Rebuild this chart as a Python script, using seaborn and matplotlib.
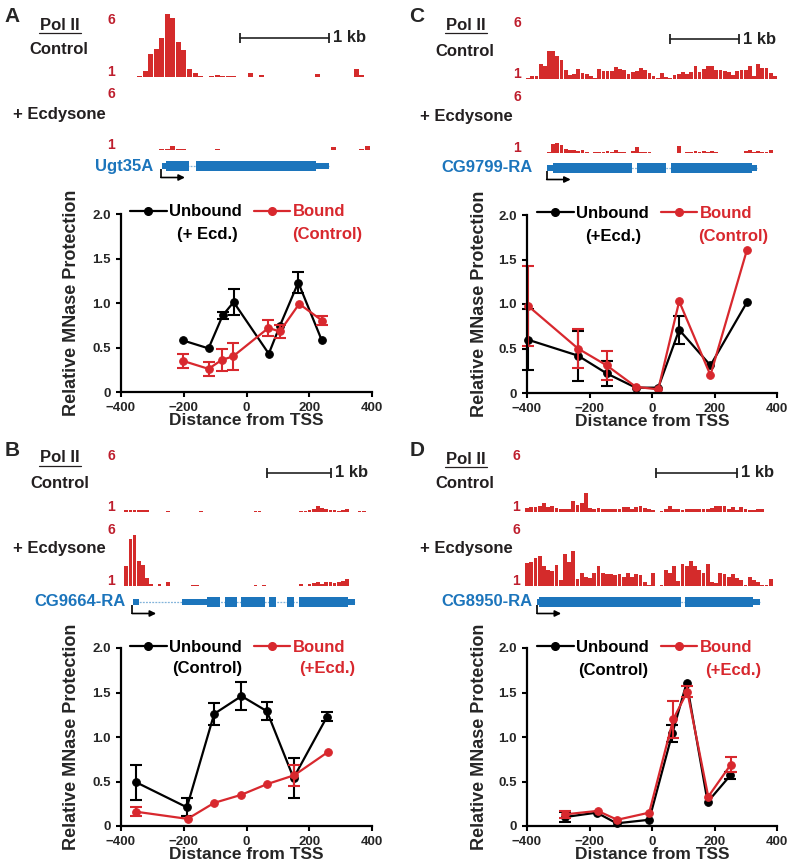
import numpy as np
import pandas as pd
import matplotlib
matplotlib.use("Agg")
import matplotlib.pyplot as plt
import matplotlib.transforms as mtransforms
from matplotlib.lines import Line2D
import seaborn as sns

# ---- MNase protection around the TSS (mean, error) ----
a_x_unb = [-203, -121, -76, -41, 71, 106, 165, 240]
a_y_unb = [0.58, 0.49, 0.86, 1.01, 0.43, 0.74, 1.23, 0.58]
a_e_unb = [0, 0, 0.04, 0.15, 0, 0, 0.12, 0]
a_x_bnd = [-203, -121, -79, -43, 70, 106, 168, 242]
a_y_bnd = [0.35, 0.26, 0.36, 0.40, 0.72, 0.68, 0.99, 0.80]
a_e_bnd = [0.08, 0.08, 0.12, 0.15, 0.09, 0.07, 0, 0.05]

c_x_unb = [-398, -237, -145, -52, 20, 87, 187, 304]
c_y_unb = [0.60, 0.42, 0.22, 0.06, 0.06, 0.71, 0.31, 1.02]
c_e_unb = [0.34, 0.28, 0.14, 0, 0, 0.16, 0, 0]
c_x_bnd = [-397, -237, -145, -52, 20, 87, 187, 304]
c_y_bnd = [0.98, 0.50, 0.31, 0.07, 0.04, 1.03, 0.20, 1.61]
c_e_bnd = [0.45, 0.22, 0.16, 0, 0, 0, 0, 0]

b_x_unb = [-351, -190, -103, -16, 65, 150, 257]
b_y_unb = [0.49, 0.21, 1.26, 1.46, 1.29, 0.54, 1.23]
b_e_unb = [0.20, 0.10, 0.12, 0.16, 0.10, 0.22, 0.05]
b_x_bnd = [-351, -188, -103, -17, 65, 152, 259]
b_y_bnd = [0.16, 0.08, 0.26, 0.35, 0.47, 0.57, 0.83]
b_e_bnd = [0.05, 0, 0, 0, 0, 0.12, 0]

d_x_unb = [-280, -177, -113, -9, 65, 111, 178, 251]
d_y_unb = [0.10, 0.15, 0.03, 0.07, 1.04, 1.61, 0.27, 0.57]
d_e_unb = [0.06, 0, 0, 0, 0.10, 0, 0, 0.04]
d_x_bnd = [-280, -174, -111, -9, 68, 113, 180, 252]
d_y_bnd = [0.13, 0.17, 0.07, 0.15, 1.20, 1.51, 0.33, 0.69]
d_e_bnd = [0.04, 0, 0, 0, 0.21, 0.06, 0, 0.08]

# ---- Pol II ChIP tracks (binned signal, scale 1-6) ----
a_ctrl = [1, 1, 1.03, 1.05, 1.48, 2.81, 3.26, 4.11, 6.0, 5.65, 3.79, 3.18, 1.66, 1.32, 1.08,
          1, 1.1, 1.16, 1.1, 1.1, 1.05, 1, 1, 1.29, 1, 1.14, 1, 1, 1, 1,
          1, 1, 1, 1, 1, 1.21, 1, 1, 1, 1, 1, 1, 1.61, 1.12, 1]
a_ecd = [1, 1, 1, 1, 1, 1, 1, 1.11, 1.11, 1.32, 1.11, 1.05, 1, 1, 1,
         1, 1, 1.11, 1, 1, 1, 1.04, 1, 1, 1, 1, 1, 1, 1, 1,
         1, 1, 1, 1, 1, 1, 1, 1, 1.27, 1, 1, 1, 1, 1.1, 1.35]
c_ctrl = [1.06, 1.22, 1.22, 2.17, 2.06, 3.22, 3.22, 2.83, 2.56, 1.72, 1.36, 1.44, 1.83, 1.5, 1.44,
          1.22, 1.08, 1.83, 1.64, 1.64, 1.64, 2.0, 1.78, 1.72, 1.44, 1.56, 1.64, 1.92, 1.72, 1.5,
          1.22, 1.08, 1.5, 1.17, 1.08, 1.33, 1.44, 1.56, 1.44, 1.56, 2.06, 1.56, 1.78, 2.06, 2.06,
          1.72, 1.72, 1.64, 1.56, 1.36, 1.64, 1.72, 1.72, 2.06, 1.28, 2.19, 1.92, 1.92, 1.5, 1.22]
c_ecd = [1, 1, 1, 1, 1, 1.08, 1.72, 1.78, 1.64, 1.36, 1.28, 1.22, 1.17, 1.22, 1.08,
         1, 1.08, 1.08, 1.08, 1.17, 1.08, 1.28, 1.08, 1.08, 1, 1.17, 1.5, 1.08, 1.08, 1.08,
         1, 1, 1, 1, 1, 1, 1.56, 1, 1.08, 1.08, 1.14, 1.08, 1.14, 1.08, 1.17,
         1.08, 1, 1, 1, 1, 1, 1, 1.17, 1.22, 1.08, 1.17, 1.08, 1.06, 1.22, 1]
b_ctrl = [1, 1.19, 1.14, 1.14, 1.14, 1.14, 1.14, 1, 1, 1, 1, 1.08, 1, 1, 1,
          1, 1, 1, 1, 1.06, 1, 1, 1, 1, 1, 1, 1, 1, 1, 1,
          1, 1, 1.08, 1.06, 1.03, 1, 1, 1, 1, 1, 1, 1, 1, 1.08, 1.11,
          1.14, 1.28, 1.47, 1.33, 1.25, 1.19, 1.14, 1.08, 1.14, 1.25, 1, 1, 1.06, 1.06, 1]
b_ecd = [1, 2.64, 4.8, 5.08, 3.0, 2.72, 1.61, 1.19, 1, 1.14, 1, 1.33, 1, 1, 1,
         1, 1, 1.11, 1.06, 1, 1, 1, 1, 1, 1, 1, 1, 1, 1, 1,
         1, 1, 1.06, 1, 1.06, 1, 1, 1, 1, 1, 1, 1, 1, 1.14, 1,
         1.14, 1.25, 1.33, 1.19, 1.33, 1.33, 1.28, 1.33, 1.42, 1.53, 1, 1, 1, 1, 1]
d_ctrl = [1.31, 1.39, 1.44, 1.5, 1.72, 1.39, 1.5, 1.31, 1.28, 1.28, 1.28, 1.86, 1.58, 1.69, 2.56,
          1.31, 1.28, 1.31, 1.28, 1.28, 1.28, 1.28, 1.22, 1.39, 1.39, 1.28, 1.39, 1.5, 1.36, 1.22,
          1.17, 1.0, 1.11, 1.28, 1.5, 1.28, 1.22, 1.17, 1.22, 1.28, 1.28, 1.28, 1.28, 1.28, 1.33,
          1.5, 1.5, 1.5, 1.22, 1.39, 1.17, 1.39, 1.28, 1.17, 1.17, 1.22, 1.22, 1.0, 1.0, 1.0]
d_ecd = [2.86, 2.92, 3.28, 3.42, 2.58, 2.31, 2.17, 2.72, 1.47, 3.56, 2.92, 3.83, 1.53, 2.08, 1.75,
         1.61, 2.08, 2.64, 2.03, 1.97, 1.97, 1.89, 1.97, 1.75, 2.08, 1.75, 1.97, 1.89, 1.33, 1.06,
         2.03, 1.0, 1.06, 2.31, 2.08, 2.58, 1.42, 2.81, 2.58, 3.0, 2.64, 2.31, 2.03, 2.81, 1.33,
         1.25, 2.03, 1.97, 1.75, 1.97, 1.61, 1.47, 1.06, 1.75, 1.47, 1.33, 1.06, 1.06, 1.53, 1.03]

# ---- gene models (kb from left edge of track) ----
gene_names = ["Ugt35A", "CG9799-RA", "CG9664-RA", "CG8950-RA"]
a_exons = [(0.52, 0.78), (0.85, 2.20)]
a_utrs = [(0.47, 0.52), (2.20, 2.35)]
c_exons = [(0.39, 1.54), (1.61, 2.03), (2.10, 3.28)]
c_utrs = [(0.30, 0.39), (3.28, 3.35)]
b_exons = [(1.36, 1.56), (1.64, 1.83), (1.89, 2.27), (2.33, 2.44), (2.61, 2.72), (2.80, 3.56)]
b_utrs = [(0.20, 0.30), (0.97, 1.36), (3.56, 3.67)]
d_exons = [(0.17, 1.93), (1.98, 2.81)]
d_utrs = [(0.15, 0.17), (2.81, 2.90)]
tss_kb = [0.46, 0.30, 0.19, 0.15]

subtitles = [("(+ Ecd.)", "(Control)"), ("(+Ecd.)", "(Control)"),
             ("(Control)", "(+Ecd.)"), ("(Control)", "(+Ecd.)")]

RED = "#D8282E"
BAR_RED = "#D42B2B"
NUM_RED = "#BE1E2D"
BLUE = "#1C75BC"
INK = "#231F20"
W, H = 800, 868

sns.set_style("ticks")
plt.rcParams["font.family"] = ["Liberation Sans", "DejaVu Sans"]
plt.rcParams["font.weight"] = "bold"
plt.rcParams["axes.labelweight"] = "bold"

fig = plt.figure(figsize=(W / 100, H / 100), dpi=100)
ov = fig.add_axes([0, 0, 1, 1], zorder=5)
ov.set_xlim(0, W)
ov.set_ylim(H, 0)
ov.axis("off")


def px_axes(x0, y0, x1, y1):
    ax = fig.add_axes([x0 / W, 1 - y1 / H, (x1 - x0) / W, (y1 - y0) / H])
    ax.patch.set_visible(False)
    return ax


def draw_track(ax, levels):
    """Binned Pol II signal drawn as bars on a 1-6 scale."""
    n = len(levels)
    df = pd.DataFrame({"bin": np.arange(n), "level": levels})
    sns.barplot(data=df, x="bin", y="level", color=BAR_RED, saturation=1, width=0.9,
                errorbar=None, linewidth=0, edgecolor="none", ax=ax)
    ax.axhline(1, color=RED, lw=0.6, alpha=0.45)
    ax.set_xlim(-0.5, n - 0.5)
    ax.set_ylim(1, 6)
    ax.axis("off")


def draw_gene(ax, L, exons, utrs, tss, ppk):
    ax.set_xlim(0, L)
    ax.set_ylim(20, -8)
    starts = [s for s, e in exons + utrs]
    ends = [e for s, e in exons + utrs]
    ax.plot([min(starts), max(ends)], [0, 0], color=BLUE, lw=0.9, alpha=0.55, ls=(0, (1.5, 1)))
    ax.broken_barh([(s, e - s) for s, e in exons], (-5, 10), color=BLUE, linewidth=0)
    ax.broken_barh([(s, e - s) for s, e in utrs], (-2.8, 5.6), color=BLUE, linewidth=0)
    ax.plot([tss, tss], [3, 11.5], color="black", lw=1.2, solid_capstyle="butt")
    ax.annotate("", xy=(tss + 24 / ppk, 11.5), xytext=(tss, 11.5),
                arrowprops=dict(arrowstyle="-|>", color="black", lw=1.2,
                                mutation_scale=9, shrinkA=0, shrinkB=0))
    ax.axis("off")


def draw_mnase(ax, unb, bnd):
    for (x, y, e), c in [(unb, "black"), (bnd, RED)]:
        sns.lineplot(x=x, y=y, ax=ax, color=c, lw=1.6, marker="o", markersize=5.5,
                     markeredgecolor=c, sort=False, errorbar=None, clip_on=False)
        m = np.array(e) > 0
        ax.errorbar(np.array(x)[m], np.array(y)[m], yerr=np.array(e)[m], fmt="none",
                    ecolor=c, elinewidth=1.5, capsize=4, capthick=1.5, clip_on=False)
    ax.set_xlim(-400, 400)
    ax.set_ylim(0, 2.0)
    ax.set_xticks([-400, -200, 0, 200, 400])
    ax.set_yticks([0, 0.5, 1.0, 1.5, 2.0])
    ax.set_yticklabels(["0", "0.5", "1.0", "1.5", "2.0"])
    sns.despine(ax=ax)
    for s in ["left", "bottom"]:
        ax.spines[s].set_linewidth(1.6)
        ax.spines[s].set_color("black")
    ax.tick_params(width=1.5, length=3.5, labelsize=9.5, pad=4, color="black")
    ax.set_xlabel("Distance from TSS", fontsize=12.5)
    ax.set_ylabel("Relative MNase Protection", fontsize=13)


panels = [
    dict(letter="A", tx=(120, 370), ppk=89, ctrl=(14, 77), ecd=(88, 150), gy=166,
         plot=(121, 214, 372, 392), ylab_x=80, let=(12, 17), pol=(60, 25), lc=(59, 50), le=(59, 115),
         glab=(153, 166), sb=1.35, sby=0.62, leg=(130, 212), sub=(207, 327, 235),
         ctrl_v=a_ctrl, ecd_v=a_ecd, exons=a_exons, utrs=a_utrs,
         unb=(a_x_unb, a_y_unb, a_e_unb), bnd=(a_x_bnd, a_y_bnd, a_e_bnd)),
    dict(letter="C", tx=(526, 777), ppk=69, ctrl=(17, 79), ecd=(91, 153), gy=168,
         plot=(527, 215, 777, 393), ylab_x=488, let=(417, 16), pol=(466, 25), lc=(465, 52), le=(466, 117),
         glab=(533, 168), sb=2.09, sby=0.64, leg=(537, 213), sub=(613, 733, 237),
         ctrl_v=c_ctrl, ecd_v=c_ecd, exons=c_exons, utrs=c_utrs,
         unb=(c_x_unb, c_y_unb, c_e_unb), bnd=(c_x_bnd, c_y_bnd, c_e_bnd)),
    dict(letter="B", tx=(120, 370), ppk=64, ctrl=(450, 512), ecd=(524, 586), gy=602,
         plot=(121, 648, 372, 826), ylab_x=80, let=(12, 450), pol=(60, 458), lc=(60, 484), le=(59, 548),
         glab=(126, 602), sb=2.30, sby=0.63, leg=(130, 647), sub=(207, 327, 669),
         ctrl_v=b_ctrl, ecd_v=b_ecd, exons=b_exons, utrs=b_utrs,
         unb=(b_x_unb, b_y_unb, b_e_unb), bnd=(b_x_bnd, b_y_bnd, b_e_bnd)),
    dict(letter="D", tx=(525, 777), ppk=81, ctrl=(450, 512), ecd=(524, 586), gy=602,
         plot=(527, 648, 777, 826), ylab_x=488, let=(417, 451), pol=(466, 459), lc=(465, 484), le=(466, 548),
         glab=(533, 602), sb=1.62, sby=0.63, leg=(537, 647), sub=(613, 733, 670),
         ctrl_v=d_ctrl, ecd_v=d_ecd, exons=d_exons, utrs=d_utrs,
         unb=(d_x_unb, d_y_unb, d_e_unb), bnd=(d_x_bnd, d_y_bnd, d_e_bnd)),
]

for i, p in enumerate(panels):
    x0, x1 = p["tx"]
    L = (x1 - x0) / p["ppk"]

    # gene model (x in kb)
    gax = px_axes(x0, p["gy"] - 8, x1, p["gy"] + 20)
    draw_gene(gax, L, p["exons"], p["utrs"], tss_kb[i], p["ppk"])
    ov.text(p["glab"][0], p["glab"][1], gene_names[i], color=BLUE, fontsize=12,
            ha="right", va="center")

    # tracks
    for key, (y0, y1) in [("ctrl_v", p["ctrl"]), ("ecd_v", p["ecd"])]:
        ax = px_axes(x0, y0, x1, y1)
        draw_track(ax, p[key])
        ov.text(x0 - 5, y0 + 6, "6", color=NUM_RED, fontsize=10, ha="right", va="center")
        ov.text(x0 - 5, y1 - 5, "1", color=NUM_RED, fontsize=10, ha="right", va="center")
        if key == "ctrl_v":
            # 1 kb scale bar, x in gene (kb) coordinates
            trans = mtransforms.blended_transform_factory(gax.transData, ax.transAxes)
            ax.plot([p["sb"], p["sb"] + 1], [p["sby"]] * 2, color="#222222", lw=1.2,
                    marker="|", markersize=6.5, mew=1.3, transform=trans, clip_on=False)
            ax.annotate("1 kb", xy=(p["sb"] + 1, p["sby"]), xycoords=trans, xytext=(3, 0),
                        textcoords="offset points", va="center", fontsize=12, color="#222222")

    # labels
    ov.text(*p["let"], p["letter"], fontsize=15, ha="center", va="center")
    ov.text(*p["pol"], "Pol II", fontsize=12, ha="center", va="center", color=INK)
    ov.plot([p["pol"][0] - 21, p["pol"][0] + 21], [p["pol"][1] + 8] * 2, color=INK, lw=0.9)
    ov.text(*p["lc"], "Control", fontsize=12, ha="center", va="center", color=INK)
    ov.text(*p["le"], "+ Ecdysone", fontsize=12, ha="center", va="center", color=INK)

    # MNase plot
    px0, py0, px1, py1 = p["plot"]
    ax = px_axes(px0, py0, px1, py1)
    draw_mnase(ax, p["unb"], p["bnd"])
    ax.yaxis.set_label_coords((p["ylab_x"] - px0) / (px1 - px0), 0.5)
    ax.xaxis.set_label_coords(0.5, -21 / 178)

    handles = [Line2D([], [], color=c, lw=1.6, marker="o", markersize=5.5) for c in ["black", RED]]
    ax.legend(handles, ["Unbound", "Bound"], ncol=2, loc="center left",
              bbox_to_anchor=(p["leg"][0] / W, 1 - p["leg"][1] / H), bbox_transform=fig.transFigure,
              frameon=False, borderpad=0, borderaxespad=0, handlelength=2.2, handletextpad=0.15,
              columnspacing=0.7, numpoints=1, prop=dict(weight="bold", size=12),
              labelcolor=["black", RED])
    sx1, sx2, sy = p["sub"]
    ov.text(sx1, sy, subtitles[i][0], fontsize=12, ha="center", va="center", color="black")
    ov.text(sx2, sy, subtitles[i][1], fontsize=12, ha="center", va="center", color=RED)

fig.savefig("out.png", dpi=100)
